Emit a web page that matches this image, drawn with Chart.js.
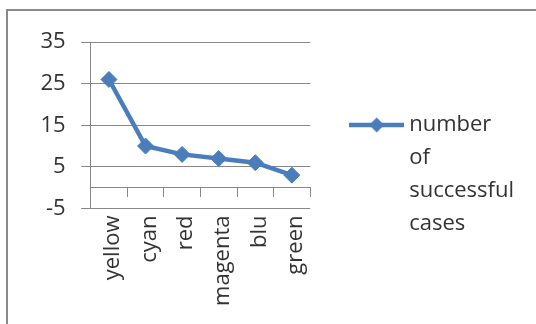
<!DOCTYPE html>
<html>
<head>
<meta charset="utf-8">
<script src="https://cdn.jsdelivr.net/npm/chart.js@4/dist/chart.umd.min.js"></script>
<style>
  html, body { margin: 0; padding: 0; background: #fff; overflow: hidden; }
  #frame {
    position: absolute; left: 6px; top: 9px; width: 600px; height: 400px;
    border: 2px solid #8a8a8a; box-sizing: border-box;
  }
  #chart { position: absolute; left: 0; top: 0; }
</style>
</head>
<body>
<div id="frame"></div>
<canvas id="chart" width="536" height="324"></canvas>
<script>
// Colours and the number of successful cases for each one
const categories = ['yellow', 'cyan', 'red', 'magenta', 'blu', 'green'];
const successfulCases = [26, 10, 8, 7, 6, 3];
const seriesName = 'number of successful cases';
const yTickValues = [-5, 5, 15, 25, 35];

const LINE_BLUE = '#4a7ebb';
const GRID_GREY = '#878787';
const TEXT_COL = '#333333';
const FONT = { family: "'Open Sans', sans-serif", size: 22 };

// Legend swatch: a short line segment with a diamond marker in its middle
function makeSwatch() {
  const c = document.createElement('canvas');
  c.width = 55; c.height = 18;
  const g = c.getContext('2d');
  g.strokeStyle = LINE_BLUE;
  g.lineWidth = 4.5;
  g.beginPath(); g.moveTo(0, 9); g.lineTo(55, 9); g.stroke();
  g.fillStyle = LINE_BLUE;
  g.beginPath();
  g.moveTo(27.5, 1.5); g.lineTo(35, 9); g.lineTo(27.5, 16.5); g.lineTo(20, 9);
  g.closePath(); g.fill();
  return c;
}
const swatch = makeSwatch();

new Chart(document.getElementById('chart'), {
  type: 'line',
  data: {
    labels: categories,
    datasets: [{
      label: seriesName,
      data: successfulCases,
      borderColor: LINE_BLUE,
      backgroundColor: LINE_BLUE,
      borderWidth: 4.5,
      pointStyle: 'rectRot',
      pointRadius: 8,
      pointBackgroundColor: LINE_BLUE,
      pointBorderColor: LINE_BLUE,
      pointBorderWidth: 1,
      tension: 0,
      fill: false
    }]
  },
  options: {
    responsive: false,
    animation: false,
    events: [],
    layout: { padding: { left: 25, top: 42, right: 12, bottom: 7 } },
    scales: {
      x: {
        type: 'category',
        position: 'bottom',
        offset: true,
        grid: { display: false, drawTicks: false },
        border: { display: false },
        ticks: {
          color: TEXT_COL,
          font: FONT,
          minRotation: 90,
          maxRotation: 90,
          padding: 7,
          labelOffset: 4,
          autoSkip: false
        },
        afterFit(scale) { scale.height = 108.5; }
      },
      // category axis line crossing at zero, with tick marks between categories
      xZero: {
        type: 'category',
        position: { y: 0 },
        offset: true,
        grid: {
          offset: true,
          drawOnChartArea: false,
          tickLength: 9,
          color: GRID_GREY,
          lineWidth: 1
        },
        border: { display: true, color: GRID_GREY, width: 1 },
        ticks: { display: false }
      },
      y: {
        type: 'linear',
        min: -5,
        max: 35,
        afterBuildTicks(scale) { scale.ticks = yTickValues.map(v => ({ value: v })); },
        grid: { color: GRID_GREY, lineWidth: 1, tickLength: 9.5 },
        border: { display: true, color: GRID_GREY, width: 1 },
        ticks: { color: TEXT_COL, font: FONT, padding: 15.5 }
      }
    },
    plugins: {
      tooltip: { enabled: false },
      legend: {
        position: 'right',
        align: 'center',
        maxWidth: 300,
        labels: {
          color: TEXT_COL,
          font: { family: FONT.family, size: 22, lineHeight: 1.49 },
          usePointStyle: true,
          pointStyleWidth: 43,
          padding: 45,
          generateLabels(chart) {
            const items = Chart.defaults.plugins.legend.labels.generateLabels(chart);
            items.forEach(it => {
              it.text = it.text.split(' ');
              it.pointStyle = swatch;
            });
            return items;
          }
        }
      }
    }
  }
});
</script>
</body>
</html>
